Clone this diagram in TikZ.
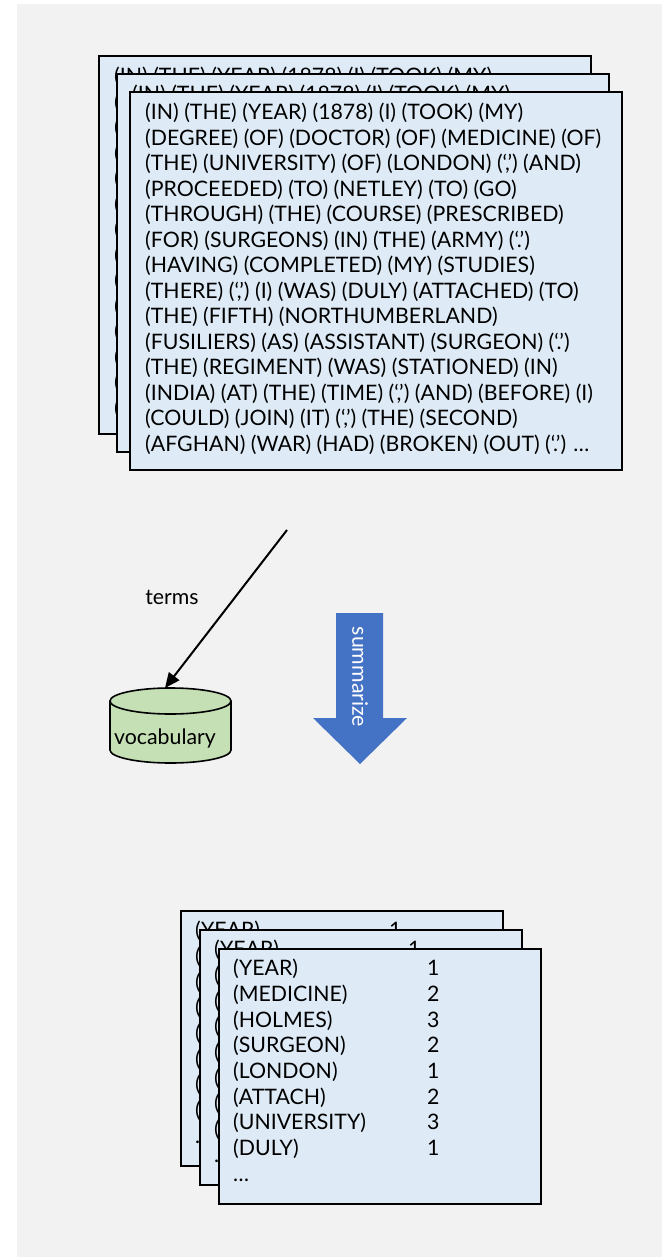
\documentclass[tikz,border=0pt]{standalone}
\usepackage{fontspec}
\setmainfont{Lato}
\usetikzlibrary{arrows.meta}

\definecolor{canvas}{HTML}{F2F2F2}
\definecolor{docfill}{HTML}{DEEBF7}
\definecolor{dbfill}{HTML}{C5E0B4}
\definecolor{flowblue}{HTML}{4472C4}

% tokenised source text, repeated on each stacked page
\newcommand\storytext{%
(IN) (THE) (YEAR) (1878) (I) (TOOK) (MY)\\
(DEGREE) (OF) (DOCTOR) (OF) (MEDICINE) (OF)\\
(THE) (UNIVERSITY) (OF) (LONDON) (‘,’) (AND)\\
(PROCEEDED) (TO) (NETLEY) (TO) (GO)\\
(THROUGH) (THE) (COURSE) (PRESCRIBED)\\
(FOR) (SURGEONS) (IN) (THE) (ARMY) (‘.’)\\
(HAVING) (COMPLETED) (MY) (STUDIES)\\
(THERE) (‘,’) (I) (WAS) (DULY) (ATTACHED) (TO)\\
(THE) (FIFTH) (NORTHUMBERLAND)\\
(FUSILIERS) (AS) (ASSISTANT) (SURGEON) (‘.’)\\
(THE) (REGIMENT) (WAS) (STATIONED) (IN)\\
(INDIA) (AT) (THE) (TIME) (‘,’) (AND) (BEFORE) (I)\\
(COULD) (JOIN) (IT) (‘,’) (THE) (SECOND)\\
(AFGHAN) (WAR) (HAD) (BROKEN) (OUT) (‘.’) …}

% term counts, two columns
\newcommand\termrow[2]{\makebox[194pt][l]{#1}#2}
\newcommand\counttext{%
\termrow{(YEAR)}{1}\\
\termrow{(MEDICINE)}{2}\\
\termrow{(HOLMES)}{3}\\
\termrow{(SURGEON)}{2}\\
\termrow{(LONDON)}{1}\\
\termrow{(ATTACH)}{2}\\
\termrow{(UNIVERSITY)}{3}\\
\termrow{(DULY)}{1}\\
…}

\tikzset{
  page/.style={draw=black, line width=1.8pt, fill=docfill, rectangle,
    inner sep=0pt, anchor=north west},
  bigpage/.style={page, minimum width=492, minimum height=378},
  smallpage/.style={page, minimum width=322, minimum height=255},
  pagetext/.style={anchor=north west, inner sep=0pt, align=left,
    font=\fontsize{21.3}{25.5}\selectfont},
  counttext/.style={anchor=north west, inner sep=0pt, align=left,
    font=\fontsize{21.3}{25.7}\selectfont},
  label/.style={font=\fontsize{21.3}{25}\selectfont},
  link/.style={draw=black, line width=2pt, -{Triangle[length=15pt,width=13pt]}},
}

\begin{document}
\begin{tikzpicture}[x=1pt,y=-1pt]
\useasboundingbox (0,0) rectangle (662,1257);
\fill[canvas] (17,4) rectangle (662,1257);

% stack of source documents
\foreach \i/\px/\py in {1/98/55, 2/116/73, 3/129/91}{
  \node[bigpage] (src\i) at (\px,\py) {};
  \node[pagetext] (srctext\i) at ([shift={(16,12)}]src\i.north west) {\storytext};
}

% vocabulary store (y axis points down here)
\fill[dbfill] (110,701) -- (110,750) arc[start angle=180, end angle=0, x radius=60.5, y radius=13]
  -- (231,701) arc[start angle=0, end angle=-180, x radius=60.5, y radius=13] -- cycle;
\draw[line width=1.6pt] (110,701) -- (110,750) arc[start angle=180, end angle=0, x radius=60.5, y radius=13]
  -- (231,701);
\draw[line width=1.6pt] (170.5,701) ellipse[x radius=60.5, y radius=13];
\node[label] (voc) at (165,738) {vocabulary};
\coordinate (voctop) at (165,688);

% terms extracted into the vocabulary
\coordinate (tokfeed) at (287,530);
\draw[link] (tokfeed) -- (voctop);
\node[label] (terms) at (172,597) {terms};

% summarize arrow
\fill[flowblue] (336,613) -- (383,613) -- (383,718) -- (407,718) -- (360,764)
  -- (313,718) -- (336,718) -- cycle;
\node[label, text=white, rotate=-90] (sum) at (360,677) {summarize};

% stack of term-count documents
\foreach \i/\px/\py in {1/180/910, 2/199/929, 3/218/948}{
  \node[smallpage] (cnt\i) at (\px,\py) {};
  \node[counttext] (cnttext\i) at ([shift={(15,11)}]cnt\i.north west) {\counttext};
}
\end{tikzpicture}
\end{document}
